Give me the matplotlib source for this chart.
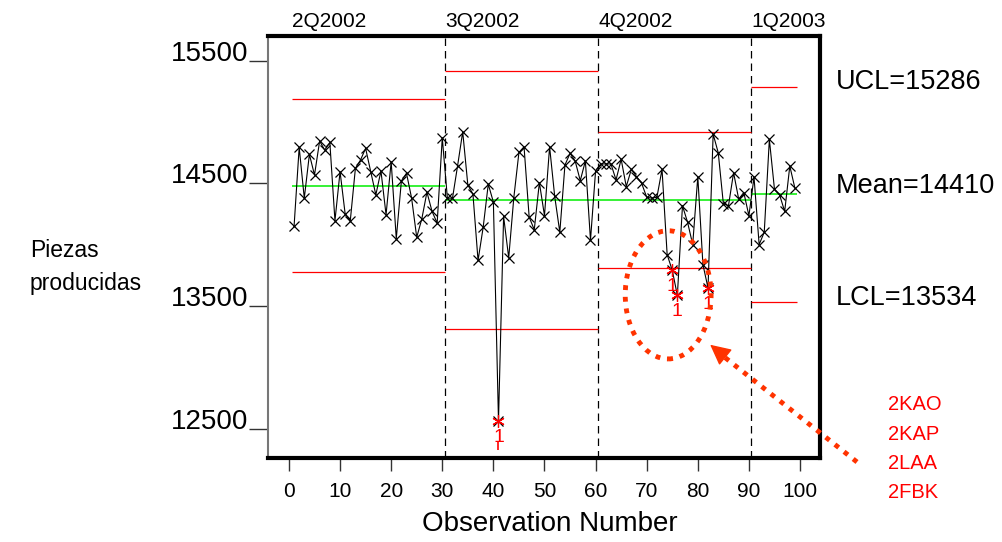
import numpy as np
import matplotlib.pyplot as plt
from matplotlib.patches import Ellipse
from matplotlib.lines import Line2D
from matplotlib.transforms import blended_transform_factory

plt.rcParams['font.family'] = ['Liberation Sans', 'DejaVu Sans']

# observations 1..99, pieces produced
obs = np.arange(1, 100)
piezas = [14148, 14792, 14378, 14735, 14567, 14843, 14770, 14832, 14194, 14594,
          14248, 14194, 14621, 14689, 14784, 14594, 14405, 14600, 14243, 14675,
          14048, 14519, 14581, 14378, 14059, 14210, 14427, 14270, 14175, 14870,
          14378, 14378, 14643, 14919, 14486, 14411, 13870, 14140, 14492, 14346,
          12562, 14229, 13892, 14383, 14751, 14797, 14224, 14121, 14505, 14235,
          14797, 14392, 14100, 14648, 14743, 14681, 14521, 14681, 14035, 14602,
          14657, 14657, 14657, 14527, 14695, 14473, 14613, 14554, 14500, 14386,
          14378, 14386, 14613, 13918, 13790, 13586, 14316, 14181, 14000, 14554,
          13837, 13646, 14900, 14748, 14332, 14316, 14586, 14370, 14424, 14235,
          14549, 14000, 14100, 14857, 14451, 14405, 14270, 14640, 14459]

# control limits per quarter
quarters     = ['2Q2002', '3Q2002', '4Q2002', '1Q2003']
period_start = [0.5, 30.5, 60.5, 90.5]
period_end   = [30.5, 60.5, 90.5, 99.5]
ucl          = [15184, 15415, 14920, 15286]
centre       = [14481, 14365, 14362, 14410]
lcl          = [13778, 13315, 13805, 13534]

flagged = [41, 75, 76, 82]          # observations out of control
codes   = ['2KAO', '2KAP', '2LAA', '2FBK']

RED = '#FF0000'
ORANGE = '#FF3300'
W, H = 1003, 542

fig = plt.figure(figsize=(W / 100, H / 100), dpi=100)
ax = fig.add_axes([0.2672, 0.155, 0.5503, 0.7786])

ax.plot(obs, piezas, color='black', lw=0.8, marker='x', ms=7, mew=0.9, zorder=3)

flag_y = [piezas[o - 1] for o in flagged]
ax.plot(flagged, flag_y, ls='none', marker=(6, 2, 0), ms=9, mew=0.9,
        color=RED, zorder=4)
for o, v in zip(flagged, flag_y):
    ax.annotate('1', (o, v), xytext=(0, -12), textcoords='offset points',
                ha='center', va='center', fontsize=14, color=RED)
ax.vlines(flagged[0], 12325, 12390, color=RED, lw=1.2)

for s, e, u, c, l in zip(period_start, period_end, ucl, centre, lcl):
    ax.hlines([u, l], s, e, color=RED, lw=0.9, zorder=2)
    ax.hlines(c, s, e, color='#00EE00', lw=1.1, zorder=2)

for s in period_start[1:]:
    ax.axvline(s, color='black', lw=0.9, ls=(0, (6, 4)), zorder=1)

ax.set_xlim(-4.1, 103.9)
ax.set_ylim(12260, 15700)
ax.set_xticks(np.arange(0, 101, 10))
ax.set_yticks([12500, 13500, 14500, 15500])
ax.tick_params(axis='x', direction='out', length=9.5, width=1, pad=8,
               labelsize=15, color='#333')
ax.tick_params(axis='y', direction='out', length=14, width=1, pad=0,
               labelsize=20, color='#333')
for lbl in ax.get_yticklabels():
    lbl.set_va('baseline')

for side in ['top', 'right', 'bottom']:
    ax.spines[side].set_linewidth(3)
ax.spines['left'].set_linewidth(1.5)
ax.spines['left'].set_color('#777')

# quarter labels above the box
tr = blended_transform_factory(ax.transData, ax.transAxes)
for s, q in zip(period_start, quarters):
    ax.text(s, 1.012, q, transform=tr, ha='left', va='bottom', fontsize=15)

# limit labels for the last quarter
fig.text(836 / W, 1 - 82 / H, f'UCL={ucl[-1]}', fontsize=19.5, va='center')
fig.text(836 / W, 1 - 186 / H, f'Mean={centre[-1]}', fontsize=19.5, va='center')
fig.text(836 / W, 1 - 298 / H, f'LCL={lcl[-1]}', fontsize=19.5, va='center')

fig.text(30 / W, 1 - 267 / H, 'Piezas\nproducidas', fontsize=16.5,
         ha='left', va='center', linespacing=1.55)
fig.text(550 / W, 1 - 524 / H, 'Observation Number', fontsize=20,
         ha='center', va='center')

# dotted circle around the low points and arrow from the codes
ax.add_patch(Ellipse((74.2, 13590), 16.8, 1045, fill=False, ec=ORANGE,
                     lw=3.5, ls=(0, (1, 1.4)), clip_on=False, zorder=5))
fig.add_artist(Line2D([857 / W, 718 / W], [1 - 462 / H, 1 - 352 / H],
                      transform=fig.transFigure, color=ORANGE, lw=3.5,
                      ls=(0, (1, 1.4))))
ax.annotate('', xy=(708, H - 343), xytext=(724, H - 356),
            xycoords='figure pixels', textcoords='figure pixels',
            arrowprops=dict(arrowstyle='-|>', color=ORANGE, lw=1,
                            mutation_scale=32))

for i, c in enumerate(codes):
    fig.text(888 / W, 1 - (405 + 29.3 * i) / H, c, fontsize=14.5,
             color=RED, va='center')

fig.savefig('out.png', dpi=100)
